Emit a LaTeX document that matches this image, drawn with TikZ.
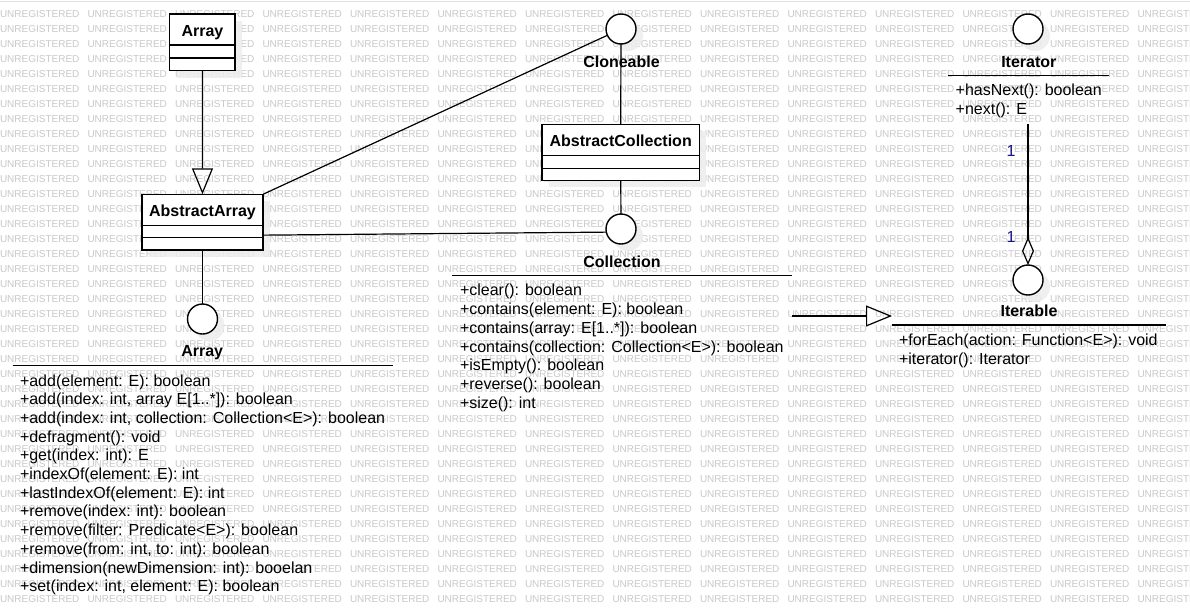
\documentclass[tikz,border=0pt]{standalone}
\usepackage{fontspec}
\setmainfont{Liberation Sans}
\usetikzlibrary{arrows.meta,shadows,calc}
\definecolor{multblue}{RGB}{20,20,140}

\begin{document}
\begin{tikzpicture}[x=1pt,y=-1pt,
  every node/.style={inner sep=0pt, outer sep=0pt},
  conn/.style={draw=black, line width=1.2pt},
  sep/.style={draw=black, line width=1.3pt},
  wm/.style={font=\fontsize{10}{12}\selectfont, text=black!21, anchor=base west},
  boxshadow/.style={general shadow={fill=black!7, opacity=0.85, shadow xshift=7pt, shadow yshift=-7pt}},
  classbox/.style={rectangle, draw=black, line width=1.5pt, fill=white, anchor=north west, boxshadow},
  iface/.style={circle, draw=black, line width=1.4pt, fill=white, minimum size=30pt, boxshadow},
  title/.style={font=\bfseries\fontsize{16}{19}\selectfont, anchor=base},
  method/.style={font=\fontsize{16}{19}\selectfont, anchor=base west},
  mult/.style={font=\fontsize{16}{19}\selectfont, text=multblue, anchor=base},
  gen/.style={-{Triangle[open, length=26pt, width=21pt, line width=1.2pt]}},
  agg/.style={-{Diamond[open, length=28pt, width=12pt, line width=1.2pt]}}
]
\useasboundingbox (0,0) rectangle (1190,613);
\fill[white] (0,0) rectangle (1190,613);

% watermark grid
\begin{scope}
  \clip (0,0) rectangle (1190,613);
  \foreach \r in {0,...,39}{
    \foreach \c in {0,...,13}{
      \node[wm] (wm-\r-\c) at (\c*87.5, 17.6+\r*15) {UNREGISTERED};
    }
  }
\end{scope}
\draw[black!12, line width=1pt] (0,1) -- (1190,1);

% ---------- classes ----------
\node[classbox, minimum width=65.5pt, minimum height=56.5pt] (arrayC) at (169.7,14) {};
\draw[sep] ([yshift=-31pt]arrayC.north west) -- ([yshift=-31pt]arrayC.north east);
\draw[sep] ([yshift=-44pt]arrayC.north west) -- ([yshift=-44pt]arrayC.north east);
\node[title] (arrayT) at ($(arrayC.north)+(0,22.5)$) {Array};

\node[classbox, minimum width=121pt, minimum height=55.7pt] (absArr) at (142,194.3) {};
\draw[sep] ([yshift=-31.4pt]absArr.north west) -- ([yshift=-31.4pt]absArr.north east);
\draw[sep] ([yshift=-43.4pt]absArr.north west) -- ([yshift=-43.4pt]absArr.north east);
\node[title] (absArrT) at ($(absArr.north)+(0,22.2)$) {AbstractArray};

\node[classbox, minimum width=157.3pt, minimum height=56pt] (absColl) at (542,124.3) {};
\draw[sep] ([yshift=-31.4pt]absColl.north west) -- ([yshift=-31.4pt]absColl.north east);
\draw[sep] ([yshift=-44pt]absColl.north west) -- ([yshift=-44pt]absColl.north east);
\node[title] (absCollT) at ($(absColl.north)+(0,22.4)$) {AbstractCollection};

% ---------- interfaces ----------
\node[iface] (cloneable) at (621,29) {};
\node[title] (cloneableT) at (621.5,67) {Cloneable};

\node[iface] (collection) at (621,229) {};
\node[title] (collectionT) at (622,267) {Collection};
\draw[sep] (452,275.7) -- (792,275.7);
\foreach \t [count=\i from 0] in {{+clear(): boolean},
  {+contains(element: E): boolean},
  {+contains(array: E[1..*]): boolean},
  {+contains(collection: Collection<E>): boolean},
  {+isEmpty(): boolean},
  {+reverse(): boolean},
  {+size(): int}}{
  \node[method] (collM\i) at (460, 295.7+\i*18.8) {\t};
}

\node[iface] (arrayI) at (202.5,319) {};
\node[title] (arrayIT) at (202.2,356.7) {Array};
\draw[sep] (12.7,365.7) -- (392.7,365.7);
\foreach \t [count=\i from 0] in {{+add(element: E): boolean},
  {+add(index: int, array E[1..*]): boolean},
  {+add(index: int, collection: Collection<E>): boolean},
  {+defragment(): void},
  {+get(index: int): E},
  {+indexOf(element: E): int},
  {+lastIndexOf(element: E): int},
  {+remove(index: int): boolean},
  {+remove(filter: Predicate<E>): boolean},
  {+remove(from: int, to: int): boolean},
  {+dimension(newDimension: int): booelan},
  {+set(index: int, element: E): boolean}}{
  \node[method] (arrM\i) at (20, 386+\i*18.7) {\t};
}

\node[iface] (iterator) at (1028,29) {};
\node[title] (iteratorT) at (1028.8,67) {Iterator};
\draw[sep] (948,75.3) -- (1109,75.3);
\node[method] (iterM0) at (955.7,95.7) {+hasNext(): boolean};
\node[method] (iterM1) at (955.7,114.3) {+next(): E};

\node[iface] (iterable) at (1028,280) {};
\node[title] (iterableT) at (1029,316.7) {Iterable};
\draw[sep] (892,325) -- (1165.7,325);
\node[method] (itbM0) at (899,345.7) {+forEach(action: Function<E>): void};
\node[method] (itbM1) at (899,364.3) {+iterator(): Iterator};

% ---------- connectors ----------
\draw[conn, gen] (arrayC) -- (absArr);
\draw[conn] (absArr.north east) -- (cloneable);
\draw[conn] ([yshift=-13pt]absArr.east) -- (collection.192);
\draw[conn] (absColl) -- (cloneable);
\draw[conn] (absColl) -- (collection);
\draw[conn] (absArr) -- (arrayI);

\coordinate (iterEnd) at (1028,124);
\draw[conn, agg] (iterEnd) -- (iterable);
\node[mult] (mult1) at (1011,156.7) {1};
\node[mult] (mult2) at (1011,242.7) {1};

\coordinate (collEdge) at (792,316);
\coordinate (iterableEdge) at (892,316);
\draw[conn, gen] (collEdge) -- (iterableEdge);
\end{tikzpicture}
\end{document}
